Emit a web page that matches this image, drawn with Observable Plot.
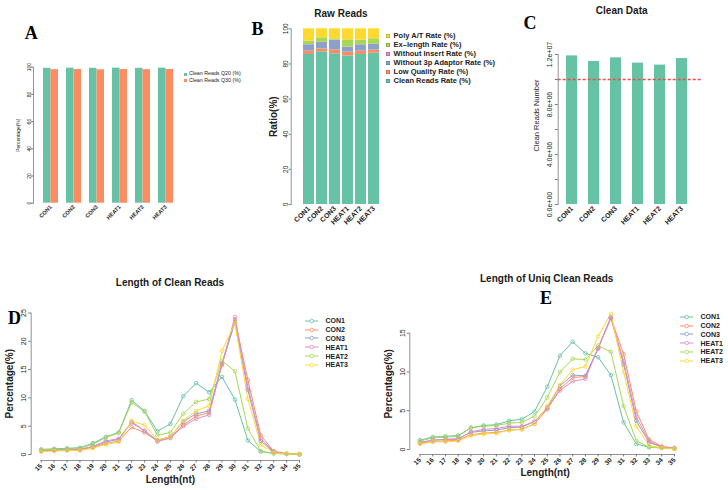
<!DOCTYPE html>
<html>
<head>
<meta charset="utf-8">
<script src="https://cdn.jsdelivr.net/npm/d3@7"></script>
<script src="https://cdn.jsdelivr.net/npm/@observablehq/plot@0.6"></script>
<style>
  html, body { margin: 0; padding: 0; background: #fff; }
  #root { position: relative; width: 728px; height: 490px; overflow: hidden; background: #fff;
          font-family: "Liberation Sans", Arial, Helvetica, sans-serif; color: #1a1a1a; }
  .abs { position: absolute; }
  .letter { position: absolute; font-family: "Liberation Serif", "Times New Roman", serif; font-weight: bold;
            font-size: 18px; line-height: 1; transform: translate(-50%, -50%); color: #000; }
  .title { position: absolute; font-weight: bold; font-size: 10px; line-height: 1; white-space: nowrap;
           transform: translate(-50%, -50%); color: #1a1a1a; }
  .leg { position: absolute; white-space: nowrap; display: flex; align-items: center; height: 10px; line-height: 1; }
</style>
</head>
<body>
<div id="root"></div>
<script>
// ---------------- data ----------------
const samples = ["CON1", "CON2", "CON3", "HEAT1", "HEAT2", "HEAT3"];
const set2 = ["#66C2A5", "#FC8D62", "#8DA0CB", "#E78AC3", "#A6D854", "#FFD92F"];

// Panel A
const qSeries = ["Clean Reads Q20 (%)", "Clean Reads Q30 (%)"];
const q20 = [99.2, 99.3, 99.2, 99.3, 99.2, 99.3];
const q30 = [98.2, 98.3, 98.1, 98.3, 98.2, 98.3];
const pctTicks = [0, 20, 40, 60, 80, 100];

// Panel B (stack order bottom -> top)
const rawCategories = ["Clean Reads Rate (%)", "Low Quality Rate (%)", "Without 3p Adaptor Rate (%)",
                       "Without Insert Rate (%)", "Ex\u2013length Rate (%)", "Poly A/T Rate (%)"];
const rawColors = ["#66C2A5", "#FC8D62", "#8DA0CB", "#E78AC3", "#A6D854", "#FFD92F"];
const cleanRate    = [85.4, 86.9, 85.8, 84.6, 85.4, 86.1];
const lowQuality   = [1.9, 1.7, 2.2, 2.1, 1.9, 1.8];
const noAdaptor    = [3.6, 3.6, 5.4, 2.9, 3.6, 3.2];
const noInsert     = [0.1, 0.1, 0.1, 0.1, 0.1, 0.1];
const exLength     = [2.0, 2.6, 0.8, 4.0, 2.5, 3.1];
const polyAT       = [7.0, 5.1, 5.7, 6.3, 6.5, 5.7];
const rawSeries = [cleanRate, lowQuality, noAdaptor, noInsert, exLength, polyAT];

// Panel C
const cleanReadsNumber = [11890000, 11440000, 11730000, 11310000, 11150000, 11680000];
const cleanThreshold = 10000000;
const cTicks = [0, 2000000, 4000000, 6000000, 8000000, 10000000, 12000000];

// Panels D & E
const lengths = [15, 16, 17, 18, 19, 20, 21, 22, 23, 24, 25, 26, 27, 28, 29, 30, 31, 32, 33, 34, 35];
const dTicks = [0, 5, 10, 15, 20, 25];
const eTicks = [0, 5, 10, 15];

const lenCON1  = [0.9, 1.0, 1.1, 1.2, 2.0, 3.1, 3.9, 9.6, 7.7, 4.1, 5.4, 10.3, 12.6, 11.0, 13.7, 9.7, 2.5, 0.5, 0.2, 0.1, 0.05];
const lenCON2  = [0.6, 0.7, 0.8, 0.8, 1.3, 1.9, 2.4, 4.8, 3.9, 2.4, 3.0, 5.2, 6.8, 7.4, 15.8, 23.8, 13.2, 3.4, 0.6, 0.15, 0.05];
const lenCON3  = [0.7, 0.8, 0.9, 0.9, 1.4, 2.2, 2.7, 5.8, 4.2, 2.5, 3.2, 5.8, 7.2, 7.7, 16.1, 23.3, 11.4, 2.4, 0.4, 0.1, 0.05];
const lenHEAT1 = [0.6, 0.8, 0.8, 0.9, 1.4, 2.4, 2.8, 5.6, 4.2, 2.3, 2.9, 5.0, 6.3, 7.0, 16.0, 24.3, 12.0, 2.8, 0.5, 0.1, 0.05];
const lenHEAT2 = [0.8, 0.9, 1.0, 1.1, 1.8, 3.0, 3.8, 9.2, 7.6, 3.4, 3.9, 7.2, 9.3, 9.8, 16.6, 14.7, 4.6, 0.6, 0.2, 0.1, 0.05];
const lenHEAT3 = [0.5, 0.6, 0.7, 0.7, 1.1, 1.8, 2.2, 5.9, 5.2, 2.6, 3.1, 6.0, 7.7, 8.6, 18.3, 23.2, 9.8, 1.7, 0.3, 0.1, 0.05];
const lenCleanSeries = [lenCON1, lenCON2, lenCON3, lenHEAT1, lenHEAT2, lenHEAT3];

const uniqCON1  = [1.2, 1.6, 1.7, 1.8, 2.8, 3.1, 3.2, 3.7, 3.9, 4.9, 8.1, 12.1, 13.9, 12.4, 11.9, 9.6, 3.5, 0.7, 0.3, 0.2, 0.1];
const uniqCON2  = [0.8, 1.0, 1.1, 1.2, 1.9, 2.1, 2.2, 2.5, 2.6, 3.3, 5.2, 7.8, 9.3, 9.4, 13.0, 17.0, 12.3, 4.9, 1.3, 0.4, 0.2];
const uniqCON3  = [0.9, 1.2, 1.3, 1.4, 2.2, 2.4, 2.5, 2.8, 2.9, 3.6, 5.4, 8.2, 9.6, 9.5, 13.1, 17.1, 11.0, 3.7, 0.9, 0.3, 0.1];
const uniqHEAT1 = [0.9, 1.2, 1.3, 1.3, 2.3, 2.6, 2.7, 3.0, 3.0, 3.6, 5.3, 7.6, 8.8, 9.1, 13.1, 16.9, 11.4, 4.2, 1.1, 0.3, 0.1];
const uniqHEAT2 = [1.1, 1.5, 1.6, 1.7, 2.8, 3.0, 3.1, 3.4, 3.5, 4.3, 6.7, 10.0, 11.7, 11.6, 13.4, 12.6, 5.6, 1.1, 0.3, 0.2, 0.1];
const uniqHEAT3 = [0.7, 1.0, 1.0, 1.1, 1.8, 2.0, 2.1, 2.5, 2.6, 3.3, 5.6, 8.3, 10.3, 10.7, 14.6, 17.5, 10.0, 3.0, 0.5, 0.2, 0.1];
const uniqSeries = [uniqCON1, uniqCON2, uniqCON3, uniqHEAT1, uniqHEAT2, uniqHEAT3];

// ---------------- helpers ----------------
const FONT = '"Liberation Sans", Arial, Helvetica, sans-serif';
const AX = "#777";
const TXT = "#222";
const root = document.getElementById("root");

function place(node, left, top) {
  const d = document.createElement("div");
  d.className = "abs";
  d.style.left = left + "px";
  d.style.top = top + "px";
  d.appendChild(node);
  root.appendChild(d);
}
function htmlText(text, cls, x, y) {
  const d = document.createElement("div");
  d.className = cls;
  d.style.left = x + "px";
  d.style.top = y + "px";
  d.textContent = text;
  root.appendChild(d);
}
function legendSquares(x0, y0, step, names, colors, size, fontSize, weight, border) {
  names.forEach((n, i) => {
    const row = document.createElement("div");
    row.className = "leg";
    row.style.left = x0 + "px";
    row.style.top = (y0 + step * i - 5) + "px";
    const shadow = border ? "box-shadow:0 0 0 0.5px rgba(0,0,0,0.3) inset;" : "";
    row.innerHTML = `<span style="display:inline-block;width:${size}px;height:${size}px;background:${colors[i]};${shadow}"></span>` +
      `<span style="margin-left:${size * 0.8}px;font-size:${fontSize}px;font-weight:${weight};color:${TXT}">${n}</span>`;
    root.appendChild(row);
  });
}
function legendLines(x0, y0, step, names, colors, fontSize) {
  names.forEach((n, i) => {
    const row = document.createElement("div");
    row.className = "leg";
    row.style.left = x0 + "px";
    row.style.top = (y0 + step * i - 5) + "px";
    row.innerHTML = `<svg width="14" height="10" style="display:block"><line x1="0" y1="5" x2="13.3" y2="5" stroke="${colors[i]}" stroke-width="1"/>` +
      `<circle cx="6.7" cy="5" r="1.8" fill="white" stroke="${colors[i]}" stroke-width="0.8"/></svg>` +
      `<span style="margin-left:6.5px;font-size:${fontSize}px;font-weight:bold;color:${TXT}">${n}</span>`;
    root.appendChild(row);
  });
}
const sci = d => d.toExponential(1).replace(/e([+-])(\d)$/, "e$10$2");

// ---------------- Panel A ----------------
const rowsA = samples.flatMap((s, i) => [
  {sample: s, series: qSeries[0], value: q20[i]},
  {sample: s, series: qSeries[1], value: q30[i]}
]);
const plotA = Plot.plot({
  width: 180, height: 230,
  marginTop: 66.7, marginBottom: 27.3, marginLeft: 33, marginRight: 3,
  style: {fontFamily: FONT, background: "transparent", color: TXT},
  x: {domain: samples, paddingInner: 0.35, paddingOuter: 0.175, insetLeft: 6, label: null},
  y: {domain: [0, 100], label: null},
  color: {domain: qSeries, range: [set2[0], set2[1]]},
  marks: [
    Plot.barY(rowsA.filter(d => d.series === qSeries[0]), {x: "sample", y: "value", fill: "series", insetRight: 7.5}),
    Plot.barY(rowsA.filter(d => d.series === qSeries[1]), {x: "sample", y: "value", fill: "series", insetLeft: 7.5}),
    Plot.frame({anchor: "left", stroke: AX, strokeWidth: 0.8}),
    Plot.axisY({ticks: pctTicks, tickSize: 2, tickPadding: 1, tickRotate: -90, fontSize: 5, stroke: AX, fill: TXT, label: null}),
    Plot.axisX({tickSize: 0, tickPadding: 3, tickRotate: -45, lineAnchor: "middle", fontSize: 5.5, fontWeight: "bold", fill: TXT, label: null}),
    Plot.text(["Percentage(%)"], {frameAnchor: "left", textAnchor: "middle", lineAnchor: "middle", rotate: -90, dx: -15, fontSize: 5, fill: TXT})
  ]
});
place(plotA, 0, 0);

// ---------------- Panel B ----------------
const rowsB = samples.flatMap((s, i) => rawCategories.map((c, k) => ({sample: s, category: c, value: rawSeries[k][i]})));
const plotB = Plot.plot({
  width: 150, height: 230,
  marginTop: 28.3, marginBottom: 26, marginLeft: 50.7, marginRight: 5.2,
  style: {fontFamily: FONT, background: "transparent", color: TXT},
  x: {domain: samples, paddingInner: 0.17, paddingOuter: 0.3, insetLeft: 6.9, label: null},
  y: {domain: [0, 100], label: null},
  color: {domain: rawCategories, range: rawColors},
  marks: [
    Plot.barY(rowsB, {x: "sample", y: "value", fill: "category", z: "category", order: rawCategories}),
    Plot.frame({anchor: "left", stroke: AX, strokeWidth: 0.8}),
    Plot.axisY({ticks: pctTicks, tickSize: 2, tickPadding: 1.5, tickRotate: -90, fontSize: 6.5, stroke: AX, fill: TXT, label: null}),
    Plot.axisX({tickSize: 0, tickPadding: 3, tickRotate: -45, lineAnchor: "middle", fontSize: 7, fontWeight: "bold", fill: TXT, label: null}),
    Plot.text(["Ratio(%)"], {frameAnchor: "left", textAnchor: "middle", lineAnchor: "middle", rotate: -90, dx: -17.7, fontSize: 10, fontWeight: "bold", fill: TXT})
  ]
});
place(plotB, 240, 0);

// ---------------- Panel C ----------------
const rowsC = samples.map((s, i) => ({sample: s, value: cleanReadsNumber[i]}));
const plotC = Plot.plot({
  width: 238, height: 230,
  marginTop: 54, marginBottom: 26, marginLeft: 67.7, marginRight: 26,
  style: {fontFamily: FONT, background: "transparent", color: TXT},
  x: {domain: samples, paddingInner: 0.515, paddingOuter: 0.3, insetLeft: 1.7, insetRight: 8.4, label: null},
  y: {domain: [0, 12000000], label: null},
  marks: [
    Plot.barY(rowsC, {x: "sample", y: "value", fill: set2[0]}),
    Plot.ruleY([cleanThreshold], {stroke: "#F04A4E", strokeWidth: 1.3, strokeDasharray: "3,2"}),
    Plot.frame({anchor: "left", stroke: AX, strokeWidth: 0.8}),
    Plot.axisY({ticks: cTicks, tickFormat: d => (d % 4000000 === 0 ? sci(d) : ""), tickSize: 2.7, tickPadding: 3.5,
                tickRotate: -90, fontSize: 7, stroke: AX, fill: TXT, label: null}),
    Plot.axisX({tickSize: 0, tickPadding: 3, tickRotate: -45, lineAnchor: "middle", fontSize: 7, fontWeight: "bold", fill: TXT, label: null}),
    Plot.text(["Clean Reads Number"], {frameAnchor: "left", textAnchor: "middle", lineAnchor: "middle", rotate: -90, dx: -21.7, dy: -14, fontSize: 7.5, fill: TXT})
  ]
});
place(plotC, 490, 0);

// ---------------- Panel D ----------------
const rowsD = samples.flatMap((s, k) => lengths.map((L, i) => ({sample: s, len: L, value: lenCleanSeries[k][i]})));
const plotD = Plot.plot({
  width: 310, height: 200,
  marginTop: 22.5, marginBottom: 30, marginLeft: 30.7, marginRight: 1,
  style: {fontFamily: FONT, background: "transparent", color: TXT},
  x: {domain: [15, 35], insetLeft: 10, insetRight: 10, label: null},
  y: {domain: [0, 25], insetBottom: 6, label: null},
  color: {domain: samples, range: set2},
  marks: [
    Plot.frame({anchor: "left", insetBottom: 6, stroke: AX, strokeWidth: 0.8}),
    Plot.frame({anchor: "bottom", insetLeft: 10, insetRight: 10, stroke: AX, strokeWidth: 0.8}),
    Plot.axisY({ticks: dTicks, tickSize: 2.5, tickPadding: 2.5, tickRotate: -90, fontSize: 7, stroke: AX, fill: TXT, label: null}),
    Plot.axisX({ticks: lengths, tickSize: 2.5, tickPadding: 2, tickRotate: -45, lineAnchor: "middle", fontSize: 6.5, fontWeight: "bold", stroke: AX, fill: TXT, label: null}),
    Plot.line(rowsD, {x: "len", y: "value", z: "sample", stroke: "sample", strokeWidth: 1}),
    Plot.dot(rowsD, {x: "len", y: "value", stroke: "sample", fill: "none", r: 1.8, strokeWidth: 0.8}),
    Plot.text(["Percentage(%)"], {frameAnchor: "left", textAnchor: "middle", lineAnchor: "middle", rotate: -90, dx: -21.7, dy: -3, fontSize: 10, fontWeight: "bold", fill: TXT}),
    Plot.text(["Length(nt)"], {frameAnchor: "bottom", textAnchor: "middle", lineAnchor: "middle", dy: 19.5, fontSize: 10, fontWeight: "bold", fill: TXT})
  ]
});
place(plotD, 0, 290);

// ---------------- Panel E ----------------
const rowsE = samples.flatMap((s, k) => lengths.map((L, i) => ({sample: s, len: L, value: uniqSeries[k][i]})));
const plotE = Plot.plot({
  width: 310, height: 200,
  marginTop: 42.7, marginBottom: 36, marginLeft: 39.3, marginRight: 0,
  style: {fontFamily: FONT, background: "transparent", color: TXT},
  x: {domain: [15, 35], insetLeft: 10.2, insetRight: 6, label: null},
  y: {domain: [0, 15], insetBottom: 5, label: null},
  color: {domain: samples, range: set2},
  marks: [
    Plot.frame({anchor: "left", insetBottom: 5, stroke: AX, strokeWidth: 0.8}),
    Plot.frame({anchor: "bottom", insetLeft: 10.2, insetRight: 6, stroke: AX, strokeWidth: 0.8}),
    Plot.axisY({ticks: eTicks, tickSize: 2.5, tickPadding: 2.5, tickRotate: -90, fontSize: 7, stroke: AX, fill: TXT, label: null}),
    Plot.axisX({ticks: lengths, tickSize: 2.5, tickPadding: 2, tickRotate: -45, lineAnchor: "middle", fontSize: 6.5, fontWeight: "bold", stroke: AX, fill: TXT, label: null}),
    Plot.line(rowsE, {x: "len", y: "value", z: "sample", stroke: "sample", strokeWidth: 1}),
    Plot.dot(rowsE, {x: "len", y: "value", stroke: "sample", fill: "none", r: 1.8, strokeWidth: 0.8}),
    Plot.text(["Percentage(%)"], {frameAnchor: "left", textAnchor: "middle", lineAnchor: "middle", rotate: -90, dx: -21.3, dy: -10, fontSize: 10, fontWeight: "bold", fill: TXT}),
    Plot.text(["Length(nt)"], {frameAnchor: "bottom", textAnchor: "middle", lineAnchor: "middle", dy: 18, fontSize: 10, fontWeight: "bold", fill: TXT})
  ]
});
place(plotE, 370, 290);

// ---------------- titles, letters, legends ----------------
htmlText("A", "letter", 31.3, 32.8);
htmlText("B", "letter", 257.5, 29);
htmlText("C", "letter", 530, 23);
htmlText("D", "letter", 14.5, 318);
htmlText("E", "letter", 546, 298);

htmlText("Raw Reads", "title", 341, 14);
htmlText("Clean Data", "title", 621.7, 10.7);
htmlText("Length of Clean Reads", "title", 170, 282.7);
htmlText("Length of Uniq Clean Reads", "title", 546.7, 279.3);

legendSquares(183.5, 74, 6.7, qSeries, [set2[0], set2[1]], 3, 5.3, "normal", false);
legendSquares(385.7, 36, 8.95, rawCategories.slice().reverse(), rawColors.slice().reverse(), 4.4, 7.5, "bold", true);
legendLines(305, 320.7, 8.85, samples, set2, 7);
legendLines(680, 316.7, 8.8, samples, set2, 7);
</script>
</body>
</html>
